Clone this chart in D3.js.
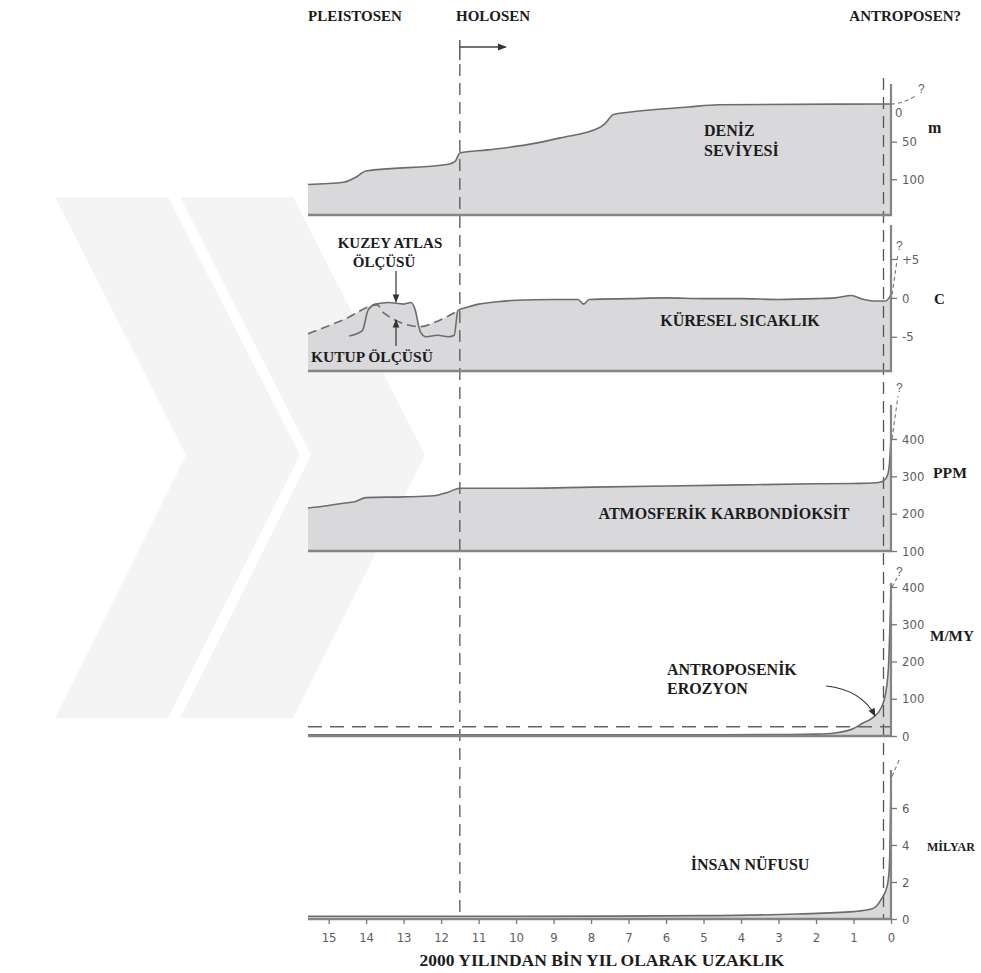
<!DOCTYPE html>
<html>
<head>
<meta charset="utf-8">
<script src="https://cdnjs.cloudflare.com/ajax/libs/d3/7.8.5/d3.min.js"></script>
<style>
  body { margin: 0; background: #fff; }
  .lbl { font-family: "Liberation Serif", "DejaVu Serif", serif; font-weight: bold; fill: #1c1c1c; }
  .tick text { font-family: "Liberation Sans Narrow", "DejaVu Sans Condensed", sans-serif; font-size: 13px; fill: #5e5e5e; }
  .tick line { stroke: #777; stroke-width: 1.3; }
</style>
</head>
<body>
<script>

// BOYUTLAR
//
var width = 981;
var height = 973;

// VERILER (bin yil once -> deger)
//
var xTicks = [15, 14, 13, 12, 11, 10, 9, 8, 7, 6, 5, 4, 3, 2, 1, 0];

var seaKa = [15.55, 14.6, 14.3, 14.0, 11.8, 11.62, 11.5, 10.76, 9.7, 8.82, 7.8, 7.65, 7.4, 7.0, 5.4, 4.6, 0];
var seaDepth = [107, 104, 98, 89, 80, 76, 65, 61, 54, 45, 32, 27, 14, 11, 4, 1, 0];
var seaTicks = [0, 50, 100];

var tempKa = [14.45, 14.1, 13.95, 13.75, 13.4, 13.0, 12.8, 12.7, 12.55, 12.4, 12.1, 11.8, 11.65, 11.55, 11.3, 11.0, 10.5, 10.0, 9.0, 8.35, 8.2, 8.05, 7.0, 6.0, 5.0, 4.0, 3.0, 2.0, 1.5, 1.05, 0.8, 0.4, 0.15, 0.05, 0];
var tempC = [-4.9, -4.2, -1.6, -0.8, -0.6, -0.8, -0.6, -1.4, -4.4, -5.0, -4.8, -5.0, -4.8, -1.6, -1.2, -0.8, -0.5, -0.3, -0.2, -0.2, -0.8, -0.2, -0.1, 0, -0.1, -0.1, -0.2, -0.1, 0, 0.3, -0.1, -0.4, -0.4, 0, 0.4];
var polarKa = [15.55, 14.6, 13.7, 13.54, 12.55, 12.2, 11.5];
var polarC = [-4.6, -2.8, -0.9, -1.9, -3.7, -3.2, -1.5];
var tempTicks = [5, 0, -5];
var tempTickLabels = ["+5", "0", "-5"];

var co2Ka = [15.55, 15.0, 14.6, 14.3, 14.0, 13.0, 12.2, 11.8, 11.5, 10.0, 8.0, 6.0, 4.0, 2.0, 1.0, 0.5, 0.3, 0.2, 0.12, 0.07, 0.04, 0.02, 0];
var co2Ppm = [215, 222, 228, 232, 243, 245, 248, 258, 268, 268, 271, 274, 277, 280, 281, 282, 284, 288, 297, 312, 335, 365, 400];
var co2Ticks = [100, 200, 300, 400];

var erosionKa = [15.55, 5.0, 3.0, 2.0, 1.5, 1.0, 0.75, 0.5, 0.25, 0.12, 0.06, 0.03, 0];
var erosionVal = [3, 3, 4, 5, 8, 20, 35, 48, 78, 130, 200, 290, 400];
var erosionTicks = [0, 100, 200, 300, 400];
var erosionRef = 25;

var popKa = [15.55, 10, 5.0, 2.5, 1.0, 0.5, 0.25, 0.1, 0.05, 0.03, 0.015, 0];
var popBillion = [0.15, 0.15, 0.18, 0.27, 0.4, 0.55, 1.1, 1.8, 2.6, 3.7, 5.5, 7.7];
var popTicks = [0, 2, 4, 6];

function zip(ka, v) {
  return ka.map(function(k, i) { return { ka: k, v: v[i] }; });
}

// OLCEKLER
//
var x = d3.scaleLinear().domain([15.55, 0]).range([308, 891]);
var axisX = x(0);

var panels = [
  { key: "sea", top: 84, base: 215, y: d3.scaleLinear().domain([0, 147.5]).range([104, 215]) },
  { key: "temp", top: 225, base: 371, y: d3.scaleLinear().domain([-9.4, 5]).range([371, 259]) },
  { key: "co2", top: 405, base: 551, y: d3.scaleLinear().domain([100, 400]).range([551, 439]) },
  { key: "ero", top: 583, base: 736, y: d3.scaleLinear().domain([0, 400]).range([736, 587]) },
  { key: "pop", top: 770, base: 919, y: d3.scaleLinear().domain([0, 6]).range([919, 808]) }
];
var P = {};
panels.forEach(function(p) { P[p.key] = p; });

var svg = d3.select("body").append("svg")
  .attr("width", width)
  .attr("height", height);

svg.append("defs").append("marker")
  .attr("id", "head")
  .attr("viewBox", "0 0 10 10")
  .attr("refX", 9).attr("refY", 5)
  .attr("markerWidth", 7).attr("markerHeight", 7)
  .attr("orient", "auto")
  .append("path").attr("d", "M0,1 L10,5 L0,9 z").attr("fill", "#333");

// ARKA PLAN FILIGRANI
//
svg.append("path")
  .attr("d", "M55,197 L168,197 L300,455 L168,718 L55,718 L186,455 Z")
  .attr("fill", "#f4f4f4");
svg.append("path")
  .attr("d", "M180,197 L293,197 L425,455 L293,718 L180,718 L311,455 Z")
  .attr("fill", "#f4f4f4");

var fillCol = "#d9d9dc";
var lineCol = "#6c6c6c";

function drawSeries(p, data, opts) {
  opts = opts || {};
  var area = d3.area()
    .x(function(d) { return x(d.ka); })
    .y0(p.base)
    .y1(function(d) { return p.y(d.v); })
    .curve(d3.curveMonotoneX);
  var line = d3.line()
    .x(function(d) { return x(d.ka); })
    .y(function(d) { return p.y(d.v); })
    .curve(d3.curveMonotoneX);
  svg.append("path").datum(data).attr("d", area).attr("fill", fillCol);
  return function() {
    svg.append("path").datum(data).attr("d", line)
      .attr("fill", "none")
      .attr("stroke", lineCol)
      .attr("stroke-width", 1.6)
      .attr("stroke-dasharray", opts.dash || null);
  };
}

// PANELLER: DOLGU + CIZGI
//
var later = [];
later.push(drawSeries(P.sea, zip(seaKa, seaDepth)));
later.push(drawSeries(P.temp, zip(polarKa, polarC), { dash: "9,5" }));
later.push(drawSeries(P.temp, zip(tempKa, tempC)));
later.push(drawSeries(P.co2, zip(co2Ka, co2Ppm)));
later.push(drawSeries(P.ero, zip(erosionKa, erosionVal)));
later.push(drawSeries(P.pop, zip(popKa, popBillion)));

// DIKEY KESIKLI CIZGILER
//
svg.append("line")
  .attr("x1", x(11.5)).attr("x2", x(11.5))
  .attr("y1", 64).attr("y2", 919)
  .attr("stroke", "#555").attr("stroke-width", 1.3)
  .attr("stroke-dasharray", "12,7");
svg.append("line")
  .attr("x1", x(0.2)).attr("x2", x(0.2))
  .attr("y1", 78).attr("y2", 919)
  .attr("stroke", "#555").attr("stroke-width", 1.3)
  .attr("stroke-dasharray", "12,7");

// EROZYON REFERANS CIZGISI
//
svg.append("line")
  .attr("x1", x(15.55)).attr("x2", axisX)
  .attr("y1", P.ero.y(erosionRef)).attr("y2", P.ero.y(erosionRef))
  .attr("stroke", "#666").attr("stroke-width", 1.4)
  .attr("stroke-dasharray", "14,8");

later.forEach(function(f) { f(); });

// TABAN CIZGILERI VE SAG EKSENLER
//
var tickSets = {
  sea: seaTicks, temp: tempTicks, co2: co2Ticks, ero: erosionTicks, pop: popTicks
};

panels.forEach(function(p) {
  svg.append("line")
    .attr("x1", x(15.55)).attr("x2", axisX + 1)
    .attr("y1", p.base).attr("y2", p.base)
    .attr("stroke", "#858585").attr("stroke-width", 2.6);
  svg.append("line")
    .attr("x1", axisX).attr("x2", axisX)
    .attr("y1", p.top).attr("y2", p.base + 1)
    .attr("stroke", "#858585").attr("stroke-width", 2.2);

  var ax = d3.axisRight(p.y).tickValues(tickSets[p.key])
    .tickSize(6).tickPadding(5)
    .tickFormat(d3.format("d"));
  if (p.key == "temp") {
    ax.tickFormat(function(d, i) { return tempTickLabels[i]; });
  }
  var g = svg.append("g").attr("transform", "translate(" + axisX + ",0)").call(ax);
  g.select(".domain").remove();
  if (p.key == "sea") {
    g.selectAll(".tick").filter(function(d) { return d == 0; })
      .select("text").attr("x", 4).attr("y", 8);
    g.selectAll(".tick").filter(function(d) { return d == 0; })
      .select("line").remove();
  }
});

// ALT EKSEN
//
var gx = svg.append("g")
  .attr("transform", "translate(0," + P.pop.base + ")")
  .call(d3.axisBottom(x).tickValues(xTicks).tickSize(5).tickPadding(9));
gx.select(".domain").remove();

// SORU ISARETLI UZANTILAR
//
function question(x1, y1, x2, y2, tx, ty, curve) {
  var d = curve
    ? "M" + x1 + "," + y1 + " Q" + (x1 + 12) + "," + y1 + " " + x2 + "," + y2
    : "M" + x1 + "," + y1 + " L" + x2 + "," + y2;
  svg.append("path").attr("d", d)
    .attr("fill", "none").attr("stroke", "#777").attr("stroke-width", 1.1)
    .attr("stroke-dasharray", "4,3");
  if (tx != null) {
    svg.append("text").attr("x", tx).attr("y", ty)
      .attr("font-family", "Liberation Sans Narrow, sans-serif")
      .attr("font-size", 12).attr("fill", "#666").text("?");
  }
}
question(axisX, P.sea.y(0), 917, 95, 918, 93, true);
question(axisX + 1, P.temp.y(0.4), 898, 254, 896, 250, false);
question(axisX + 1, P.co2.y(400), 898, 396, 896, 392, false);
question(axisX + 1, P.ero.y(400), 897, 578, 896, 576, false);
question(axisX + 1, P.pop.y(7.7), 900, 758, null, null, false);

// METINLER
//
function label(txt, xx, yy, size, anchor, len) {
  var t = svg.append("text").attr("class", "lbl")
    .attr("x", xx).attr("y", yy)
    .attr("font-size", size)
    .attr("text-anchor", anchor || "start")
    .text(txt);
  if (len) {
    t.attr("textLength", len).attr("lengthAdjust", "spacingAndGlyphs");
  }
}

label("PLEISTOSEN", 308, 21, 15);
label("HOLOSEN", 456, 21, 15);
label("ANTROPOSEN?", 961, 21, 15, "end");

label("DENİZ", 704, 136, 16);
label("SEVİYESİ", 704, 156, 16);
label("m", 928, 133, 16);

label("KUZEY ATLAS", 390, 248, 15, "middle");
label("ÖLÇÜSÜ", 384, 267, 15, "middle");
label("KUTUP ÖLÇÜSÜ", 311, 362, 15.5);
label("KÜRESEL SICAKLIK", 740, 326, 16, "middle");
label("C", 934, 304, 15);

label("ATMOSFERİK KARBONDİOKSİT", 724, 519, 16, "middle");
label("PPM", 933, 478, 14, "start", 34);

label("ANTROPOSENİK", 667, 675, 16);
label("EROZYON", 667, 694, 16);
label("M/MY", 930, 641, 14, "start", 44);

label("İNSAN NÜFUSU", 750, 870, 16, "middle");
label("MİLYAR", 927, 851, 12, "start", 48);

label("2000 YILINDAN BİN YIL OLARAK UZAKLIK", 602, 966, 17.5, "middle");

// OKLAR
//
var hx = x(11.5);
svg.append("line").attr("x1", hx).attr("x2", hx).attr("y1", 40).attr("y2", 60)
  .attr("stroke", "#444").attr("stroke-width", 1.3);
svg.append("line").attr("x1", hx).attr("x2", hx + 46).attr("y1", 47).attr("y2", 47)
  .attr("stroke", "#444").attr("stroke-width", 1.3).attr("marker-end", "url(#head)");

svg.append("line").attr("x1", 396).attr("x2", 396).attr("y1", 271).attr("y2", 302)
  .attr("stroke", "#333").attr("stroke-width", 1.2).attr("marker-end", "url(#head)");
svg.append("line").attr("x1", 396).attr("x2", 396).attr("y1", 346).attr("y2", 320)
  .attr("stroke", "#333").attr("stroke-width", 1.2).attr("marker-end", "url(#head)");

svg.append("path").attr("d", "M826,686 Q862,690 875,716")
  .attr("fill", "none").attr("stroke", "#333").attr("stroke-width", 1.2)
  .attr("marker-end", "url(#head)");

</script>
</body>
</html>
